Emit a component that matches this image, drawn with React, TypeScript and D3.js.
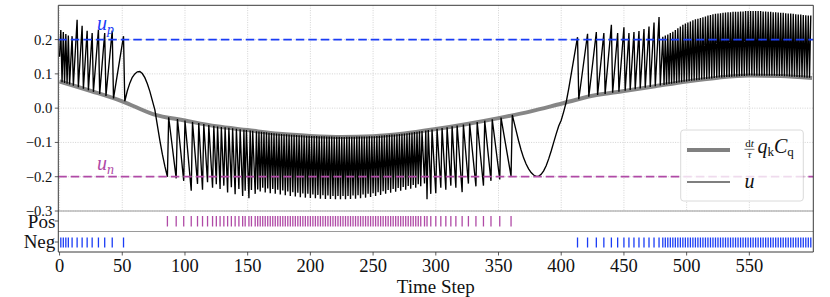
import React, { useEffect, useRef } from 'react';
import * as d3 from 'd3';

// smooth reference curve dt/tau * q_k * C_q, sampled every 25 steps
const grayT = [0, 25, 50, 75, 100, 125, 150, 175, 200, 225, 250, 275, 300, 325, 350, 375, 400, 425, 450, 475, 500, 525, 550, 575, 600];
const grayV = [0.078, 0.05, 0.02, -0.018, -0.036, -0.053, -0.064, -0.075, -0.081, -0.084, -0.082, -0.074, -0.061, -0.046, -0.029, -0.01, 0.013, 0.036, 0.05, 0.064, 0.078, 0.089, 0.095, 0.094, 0.088];

const uStart = 0.15;

// first run of negative events
const negATimes = [1, 3, 5, 7, 10, 14, 18, 22, 26, 31, 36, 42, 51];
const negAPeaks = [0.228, 0.222, 0.216, 0.212, 0.21, 0.258, 0.24, 0.226, 0.219, 0.229, 0.219, 0.226, 0.21];

// u between the negative and positive runs
const freeATimes = [52, 54, 56, 58, 60, 62, 64, 66, 68, 70, 72, 74, 76, 78, 80, 82, 84];
const freeAValues = [0.02, 0.05, 0.073, 0.09, 0.1, 0.106, 0.107, 0.101, 0.089, 0.071, 0.049, 0.022, -0.005, -0.05, -0.095, -0.135, -0.17];

const posTimes = [
  86, 93, 99, 105, 110, 114, 118, 122, 125, 128, 131, 134, 137, 140, 143, 146, 148, 151, 153, 156, 158,
  160, 162, 164, 166, 168, 170, 172, 174, 176, 178, 180, 182, 184, 186, 188, 190, 192, 194, 196, 198,
  200, 202, 204, 206, 208, 210, 212, 214, 216, 218, 220, 222, 224, 226, 228, 230, 232, 234, 236, 238,
  240, 242, 244, 246, 248, 250, 252, 254, 256, 258, 260, 262, 264, 266, 268, 270, 272, 274, 276, 278,
  280, 282, 284, 286, 288,
  291, 293, 296, 300, 304, 308, 312, 316, 321, 326, 332, 338, 344, 351, 360,
];
const posPeaks = [
  -0.2, -0.205, -0.212, -0.241, -0.221, -0.238, -0.216, -0.232, -0.222, -0.236, -0.226, -0.246, -0.231, -0.251, -0.236, -0.256, -0.241, -0.263, -0.239, -0.25, -0.237,
  -0.243, -0.232, -0.246, -0.234, -0.248, -0.236, -0.25, -0.238, -0.252, -0.24, -0.254, -0.243, -0.256, -0.245, -0.258, -0.247, -0.26, -0.249, -0.261, -0.25,
  -0.262, -0.252, -0.263, -0.253, -0.264, -0.254, -0.265, -0.255, -0.265, -0.256, -0.266, -0.256, -0.266, -0.256, -0.266, -0.256, -0.265, -0.255, -0.264, -0.254,
  -0.263, -0.252, -0.261, -0.25, -0.259, -0.248, -0.256, -0.245, -0.253, -0.242, -0.25, -0.239, -0.247, -0.236, -0.244, -0.233, -0.241, -0.23, -0.238, -0.227,
  -0.235, -0.224, -0.232, -0.222, -0.228,
  -0.22, -0.266, -0.25, -0.248, -0.232, -0.238, -0.226, -0.232, -0.245, -0.22, -0.228, -0.226, -0.212, -0.208, -0.198,
];

// u between the positive run and the second negative run
const freeBTimes = [361, 362, 364, 366, 368, 370, 372, 374, 376, 378, 380, 382, 384, 386, 388, 390, 392, 394, 396, 398, 400, 402, 404, 406, 408, 410, 412];
const freeBValues = [-0.02, -0.035, -0.065, -0.095, -0.122, -0.145, -0.163, -0.177, -0.188, -0.195, -0.199, -0.199, -0.193, -0.183, -0.168, -0.148, -0.125, -0.1, -0.075, -0.052, -0.035, -0.01, 0.018, 0.057, 0.1, 0.143, 0.186];

const negBTimes = [
  413, 421, 428, 434, 440, 445, 450, 454, 458, 462, 466, 470, 474, 478, 481,
  483, 485, 487, 489, 491, 493, 495, 497, 499, 501, 503, 505, 507, 509, 511, 513, 515, 517, 519, 521,
  523, 525, 527, 529, 531, 533, 535, 537, 539, 541, 543, 545, 547, 549, 551, 553, 555, 557, 559, 561,
  563, 565, 567, 569, 571, 573, 575, 577, 579, 581, 583, 585, 587, 589, 591, 593, 595, 597, 599,
];
const negBPeaks = [
  0.207, 0.217, 0.222, 0.219, 0.243, 0.219, 0.236, 0.219, 0.222, 0.225, 0.231, 0.238, 0.25, 0.266, 0.208,
  0.212, 0.215, 0.219, 0.223, 0.228, 0.233, 0.238, 0.243, 0.247, 0.25, 0.253, 0.256, 0.259, 0.261, 0.263, 0.265, 0.267, 0.27, 0.272, 0.274,
  0.275, 0.276, 0.277, 0.278, 0.279, 0.28, 0.28, 0.281, 0.281, 0.281, 0.282, 0.282, 0.283, 0.283, 0.283, 0.283, 0.283, 0.283, 0.283, 0.282,
  0.282, 0.281, 0.281, 0.28, 0.28, 0.279, 0.278, 0.278, 0.277, 0.276, 0.276, 0.275, 0.274, 0.273, 0.273, 0.272, 0.271, 0.27, 0.27,
];

const uP = 0.2;
const uN = -0.2;
const xTicks = [0, 50, 100, 150, 200, 250, 300, 350, 400, 450, 500, 550];
const yTicks = [-0.3, -0.2, -0.1, 0.0, 0.1, 0.2];

const BLUE = '#1a3cf5';
const PURPLE = '#b04aa6';
const SERIF = '"Liberation Serif", "Times New Roman", serif';

function App() {
  const ref = useRef(null);

  useEffect(() => {
    drawChart();
  }, []);

  function drawChart() {
    const W = 830;
    const H = 297;
    const left = 58.3;
    const right = 813.3;
    const top = 5.3;
    const mainBottom = 211;
    const posBottom = 231.5;
    const negBottom = 252;

    d3.select(ref.current).select('svg').remove();

    const svg = d3
      .select(ref.current)
      .append('svg')
      .attr('width', W)
      .attr('height', H)
      .style('display', 'block')
      .style('font-family', SERIF);

    const x = d3.scaleLinear().domain([-1, 601]).range([left, right]);
    const y = d3.scaleLinear().domain([-0.3, 0.3]).range([mainBottom, top]);
    const gray = d3.scaleLinear().domain(grayT).range(grayV);

    // grid
    svg.append('g')
      .selectAll('line')
      .data(xTicks)
      .enter()
      .append('line')
      .attr('x1', (d) => x(d))
      .attr('x2', (d) => x(d))
      .attr('y1', top)
      .attr('y2', mainBottom)
      .attr('stroke', '#c8c8c8')
      .attr('stroke-width', 0.8)
      .attr('stroke-dasharray', '1,1.4');
    svg.append('g')
      .selectAll('line')
      .data(yTicks)
      .enter()
      .append('line')
      .attr('x1', left)
      .attr('x2', right)
      .attr('y1', (d) => y(d))
      .attr('y2', (d) => y(d))
      .attr('stroke', '#c8c8c8')
      .attr('stroke-width', 0.8)
      .attr('stroke-dasharray', '1,1.4');

    // gray reference curve
    const line = d3.line().x((d) => x(d[0])).y((d) => y(d[1]));
    svg.append('path')
      .attr('d', line.curve(d3.curveMonotoneX)(grayT.map((t, i) => [t, grayV[i]])))
      .attr('fill', 'none')
      .attr('stroke', '#808080')
      .attr('stroke-width', 4)
      .attr('opacity', 0.95);

    // u: peak at each event, reset to the gray curve on the next step
    const pts = [[0, uStart]];
    const addEvents = (times, peaks) => {
      times.forEach((t, i) => {
        pts.push([t, peaks[i]]);
        if (i < times.length - 1) pts.push([t + 1, gray(t + 1)]);
      });
    };
    const addFree = (times, vals) => times.forEach((t, i) => pts.push([t, vals[i]]));
    addEvents(negATimes, negAPeaks);
    addFree(freeATimes, freeAValues);
    addEvents(posTimes, posPeaks);
    addFree(freeBTimes, freeBValues);
    addEvents(negBTimes, negBPeaks);

    svg.append('path')
      .attr('d', line.curve(d3.curveLinear)(pts))
      .attr('fill', 'none')
      .attr('stroke', '#000')
      .attr('stroke-width', 1.35)
      .attr('stroke-linejoin', 'miter');

    // thresholds
    [[uP, BLUE], [uN, PURPLE]].forEach(([v, c]) => {
      svg.append('line')
        .attr('x1', left)
        .attr('x2', right)
        .attr('y1', y(v))
        .attr('y2', y(v))
        .attr('stroke', c)
        .attr('stroke-width', 1.8)
        .attr('stroke-dasharray', '8.5,4');
    });

    const sublabel = (tx, ty, main, sub, color) => {
      const t = svg.append('text')
        .attr('x', tx)
        .attr('y', ty)
        .attr('fill', color)
        .style('font-style', 'italic')
        .style('font-size', '20px')
        .text(main);
      t.append('tspan')
        .attr('dy', 4)
        .style('font-size', '14px')
        .text(sub);
    };
    sublabel(97, 30, 'u', 'p', BLUE);
    sublabel(97, 169.5, 'u', 'n', PURPLE);

    // event rows
    svg.append('g')
      .selectAll('line')
      .data(posTimes)
      .enter()
      .append('line')
      .attr('x1', (d) => x(d))
      .attr('x2', (d) => x(d))
      .attr('y1', 216)
      .attr('y2', 226.5)
      .attr('stroke', PURPLE)
      .attr('stroke-width', 1.3);
    svg.append('g')
      .selectAll('line')
      .data(negATimes.concat(negBTimes))
      .enter()
      .append('line')
      .attr('x1', (d) => x(d))
      .attr('x2', (d) => x(d))
      .attr('y1', 237.5)
      .attr('y2', 247.5)
      .attr('stroke', BLUE)
      .attr('stroke-width', 1.3);

    // frames
    const frame = svg.append('g').attr('fill', 'none');
    frame.append('line').attr('x1', left).attr('x2', right).attr('y1', mainBottom).attr('y2', mainBottom)
      .attr('stroke', '#9a9a9a').attr('stroke-width', 1);
    frame.append('line').attr('x1', left).attr('x2', right).attr('y1', posBottom).attr('y2', posBottom)
      .attr('stroke', '#9a9a9a').attr('stroke-width', 1);
    frame.append('path')
      .attr('d', `M${left},${negBottom}V${top}H${right}V${negBottom}Z`)
      .attr('stroke', '#3a3a3a')
      .attr('stroke-width', 1);

    // y axis
    const yAx = svg.append('g');
    yTicks.forEach((v) => {
      yAx.append('line')
        .attr('x1', left - 3.5).attr('x2', left)
        .attr('y1', y(v)).attr('y2', y(v))
        .attr('stroke', '#333').attr('stroke-width', 0.8);
      yAx.append('text')
        .attr('x', left - 6)
        .attr('y', y(v))
        .attr('dy', '0.34em')
        .attr('text-anchor', 'end')
        .style('font-size', '14.7px')
        .attr('fill', '#111')
        .text(d3.format('.1f')(v).replace('-', '\u2212'));
    });
    [['Pos', 228, 221], ['Neg', 248, 242]].forEach(([lab, by, ty]) => {
      yAx.append('line')
        .attr('x1', left - 3.5).attr('x2', left)
        .attr('y1', ty).attr('y2', ty)
        .attr('stroke', '#333').attr('stroke-width', 0.8);
      yAx.append('text')
        .attr('x', left - 3)
        .attr('y', by)
        .attr('text-anchor', 'end')
        .style('font-size', '19px')
        .attr('fill', '#111')
        .text(lab);
    });

    // x axis
    const xAx = svg.append('g');
    xTicks.forEach((v) => {
      xAx.append('line')
        .attr('x1', x(v)).attr('x2', x(v))
        .attr('y1', negBottom).attr('y2', negBottom + 3.5)
        .attr('stroke', '#333').attr('stroke-width', 0.8);
      xAx.append('text')
        .attr('x', x(v))
        .attr('y', 271.8)
        .attr('text-anchor', 'middle')
        .style('font-size', '18.5px')
        .attr('fill', '#111')
        .text(v);
    });
    svg.append('text')
      .attr('x', (left + right) / 2)
      .attr('y', 292.8)
      .attr('text-anchor', 'middle')
      .style('font-size', '19px')
      .attr('fill', '#111')
      .text('Time Step');

    // legend
    const lg = svg.append('g');
    lg.append('rect')
      .attr('x', 680.7).attr('y', 130)
      .attr('width', 122.6).attr('height', 71)
      .attr('rx', 3)
      .attr('fill', '#fff').attr('fill-opacity', 0.8)
      .attr('stroke', '#d0d0d0').attr('stroke-width', 0.8);
    lg.append('line')
      .attr('x1', 687).attr('x2', 730).attr('y1', 150).attr('y2', 150)
      .attr('stroke', '#808080').attr('stroke-width', 4);
    lg.append('line')
      .attr('x1', 687).attr('x2', 730).attr('y1', 182).attr('y2', 182)
      .attr('stroke', '#000').attr('stroke-width', 1.2);
    const fr = lg.append('text')
      .attr('x', 749.5).attr('y', 147)
      .attr('text-anchor', 'middle')
      .style('font-size', '11px')
      .attr('fill', '#111');
    fr.append('tspan').text('d');
    fr.append('tspan').style('font-style', 'italic').text('t');
    lg.append('line')
      .attr('x1', 744.5).attr('x2', 754.5).attr('y1', 149.3).attr('y2', 149.3)
      .attr('stroke', '#111').attr('stroke-width', 0.6);
    lg.append('text')
      .attr('x', 749.5).attr('y', 157.5)
      .attr('text-anchor', 'middle')
      .style('font-size', '11px')
      .style('font-style', 'italic')
      .attr('fill', '#111')
      .text('\u03c4');
    const ql = lg.append('text')
      .attr('x', 757.5).attr('y', 152.5)
      .style('font-size', '20px')
      .attr('fill', '#111');
    ql.append('tspan').style('font-style', 'italic').text('q');
    ql.append('tspan').attr('dy', 3).style('font-size', '13px').text('k');
    ql.append('tspan').attr('dy', -3).style('font-style', 'italic').text('C');
    ql.append('tspan').attr('dy', 3).style('font-size', '13px').text('q');
    lg.append('text')
      .attr('x', 744.5).attr('y', 188)
      .style('font-size', '20px')
      .style('font-style', 'italic')
      .attr('fill', '#111')
      .text('u');
  }

  return <div ref={ref} style={{ position: 'absolute', left: 0, top: 0 }} />;
}

export default App;
